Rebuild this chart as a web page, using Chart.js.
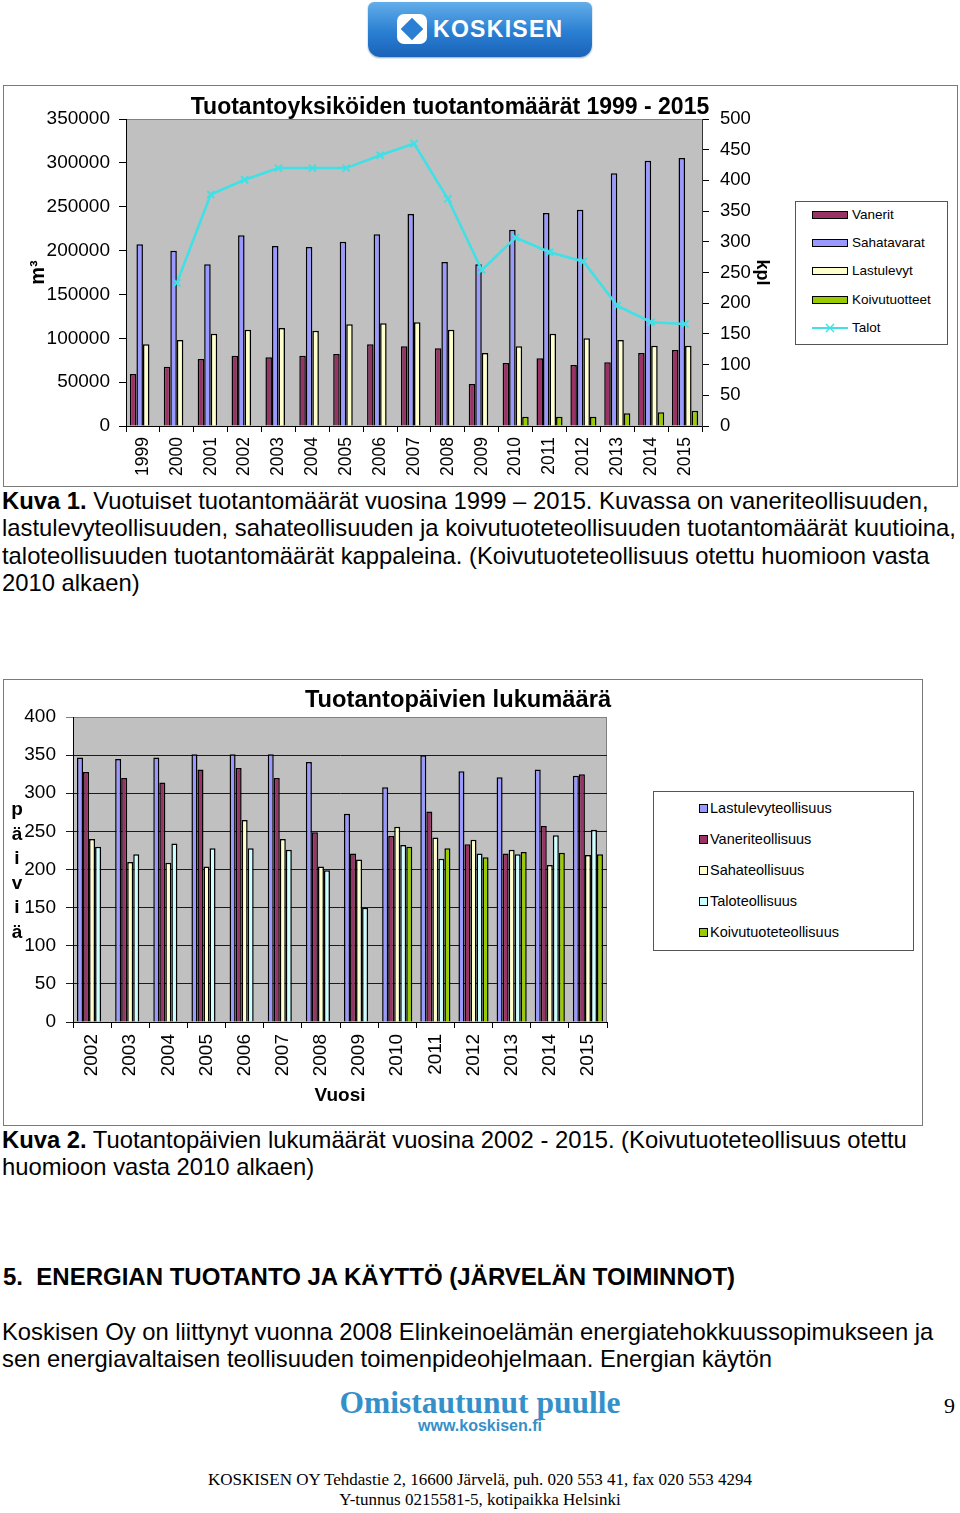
<!DOCTYPE html>
<html>
<head>
<meta charset="utf-8">
<script src="https://cdn.jsdelivr.net/npm/chart.js@4.4.0/dist/chart.umd.min.js"></script>
<style>
  body { margin: 0; background: #fff; }
  #page { position: relative; width: 960px; height: 1513px; overflow: hidden; background: #fff;
          font-family: "Liberation Sans", Arial, sans-serif; color: #000; }
  .abs { position: absolute; white-space: nowrap; }
  .frame { position: absolute; box-sizing: border-box; border: 1px solid #7a7a7a; background: #fff; }
  .frame canvas { position: absolute; left: 0; top: 0; }
  .leg { position: absolute; box-sizing: border-box; border: 1px solid #555; background: #fff; }
  .sw1 { position: absolute; width: 36px; height: 8px; box-sizing: border-box; border: 1.5px solid #000; }
  .sw2 { position: absolute; width: 9px; height: 9px; box-sizing: border-box; border: 1.5px solid #000; }
  .lt1 { position: absolute; font-size: 13.5px; line-height: 16px; }
  .lt2 { position: absolute; font-size: 14.5px; line-height: 18px; }
  .cap { font-size: 23.8px; line-height: 27.3px; }
</style>
</head>
<body>
<div id="page">

  <!-- logo -->
  <div class="abs" style="left:368px;top:2px;width:224px;height:55px;border-radius:6px 6px 12px 12px;
       background:linear-gradient(#63aeea,#2a7fd2 55%,#1a62b8);box-shadow:0 1px 2px #8ab;"></div>
  <div class="abs" style="left:397px;top:14px;width:30px;height:30px;border-radius:7px;background:#fff;"></div>
  <div class="abs" style="left:404px;top:21px;width:16px;height:16px;background:#2a7fd2;transform:rotate(45deg);"></div>
  <div class="abs" style="left:433px;top:15px;font-size:23px;line-height:28px;font-weight:bold;color:#fff;letter-spacing:1.3px;">KOSKISEN</div>

  <!-- chart 1 -->
  <div class="frame" style="left:3px;top:85px;width:955px;height:402px;">
    <canvas id="c1" width="953" height="400"></canvas>
  </div>
  <div class="abs" style="left:0px;top:92px;width:900px;text-align:center;font-size:23px;line-height:28px;font-weight:bold;">Tuotantoyksiköiden tuotantomäärät 1999 - 2015</div>

  <div class="leg" style="left:795px;top:201px;width:153px;height:144px;"></div>
  <div class="sw1" style="left:812px;top:211px;background:#993366;"></div>
  <div class="lt1" style="left:852px;top:207px;">Vanerit</div>
  <div class="sw1" style="left:812px;top:239px;background:#9999ff;"></div>
  <div class="lt1" style="left:852px;top:235px;">Sahatavarat</div>
  <div class="sw1" style="left:812px;top:267px;background:#ffffcc;"></div>
  <div class="lt1" style="left:852px;top:263px;">Lastulevyt</div>
  <div class="sw1" style="left:812px;top:296px;background:#99cc00;"></div>
  <div class="lt1" style="left:852px;top:292px;">Koivutuotteet</div>
  <svg class="abs" style="left:812px;top:322px;" width="36" height="12">
    <line x1="0" y1="6" x2="36" y2="6" stroke="#3fe0e6" stroke-width="2"/>
    <line x1="14" y1="2" x2="22" y2="10" stroke="#3fe0e6" stroke-width="1.5"/>
    <line x1="22" y1="2" x2="14" y2="10" stroke="#3fe0e6" stroke-width="1.5"/>
  </svg>
  <div class="lt1" style="left:852px;top:320px;">Talot</div>

  <div class="abs cap" style="left:2px;top:487px;">
    <b>Kuva 1.</b> Vuotuiset tuotantomäärät vuosina 1999 – 2015. Kuvassa on vaneriteollisuuden,<br>
    lastulevyteollisuuden, sahateollisuuden ja koivutuoteteollisuuden tuotantomäärät kuutioina,<br>
    taloteollisuuden tuotantomäärät kappaleina. (Koivutuoteteollisuus otettu huomioon vasta<br>
    2010 alkaen)
  </div>

  <!-- chart 2 -->
  <div class="frame" style="left:3px;top:679px;width:920px;height:447px;">
    <canvas id="c2" width="918" height="445"></canvas>
  </div>
  <div class="abs" style="left:58px;top:685px;width:800px;text-align:center;font-size:23.7px;line-height:28px;font-weight:bold;">Tuotantopäivien lukumäärä</div>
  <div class="abs" style="left:9px;top:797px;width:16px;text-align:center;font-size:19px;line-height:24.6px;font-weight:bold;">p<br>ä<br>i<br>v<br>i<br>ä</div>

  <div class="leg" style="left:653px;top:791px;width:261px;height:160px;"></div>
  <div class="sw2" style="left:699px;top:804px;background:#9999ff;"></div>
  <div class="lt2" style="left:710px;top:799px;">Lastulevyteollisuus</div>
  <div class="sw2" style="left:699px;top:835px;background:#993366;"></div>
  <div class="lt2" style="left:710px;top:830px;">Vaneriteollisuus</div>
  <div class="sw2" style="left:699px;top:866px;background:#ffffcc;"></div>
  <div class="lt2" style="left:710px;top:861px;">Sahateollisuus</div>
  <div class="sw2" style="left:699px;top:897px;background:#ccffff;"></div>
  <div class="lt2" style="left:710px;top:892px;">Taloteollisuus</div>
  <div class="sw2" style="left:699px;top:928px;background:#99cc00;"></div>
  <div class="lt2" style="left:710px;top:923px;">Koivutuoteteollisuus</div>

  <div class="abs cap" style="left:2px;top:1126px;">
    <b>Kuva 2.</b> Tuotantopäivien lukumäärät vuosina 2002 - 2015. (Koivutuoteteollisuus otettu<br>
    huomioon vasta 2010 alkaen)
  </div>

  <div class="abs" style="left:3px;top:1263px;font-size:24px;line-height:28px;font-weight:bold;">5.&nbsp;&nbsp;ENERGIAN TUOTANTO JA KÄYTTÖ (JÄRVELÄN TOIMINNOT)</div>

  <div class="abs cap" style="left:2px;top:1318px;">
    Koskisen Oy on liittynyt vuonna 2008 Elinkeinoelämän energiatehokkuussopimukseen ja<br>
    sen energiavaltaisen teollisuuden toimenpideohjelmaan. Energian käytön
  </div>

  <!-- footer -->
  <div class="abs" style="left:280px;top:1385px;width:400px;text-align:center;font-family:'Liberation Serif',serif;font-weight:bold;font-size:31.5px;line-height:35px;color:#3590c9;">Omistautunut puulle</div>
  <div class="abs" style="left:380px;top:1417px;width:200px;text-align:center;font-weight:bold;font-size:16px;line-height:18px;color:#3590c9;">www.koskisen.fi</div>
  <div class="abs" style="left:944px;top:1393px;font-family:'Liberation Serif',serif;font-size:22px;line-height:26px;">9</div>
  <div class="abs" style="left:0;top:1470px;width:960px;text-align:center;font-family:'Liberation Serif',serif;font-size:17px;line-height:20px;">KOSKISEN OY Tehdastie 2, 16600 Järvelä, puh. 020 553 41, fax 020 553 4294<br>Y-tunnus 0215581-5, kotipaikka Helsinki</div>
</div>

<script>
// ---------- Chart 1 data ----------
const years1 = ['1999','2000','2001','2002','2003','2004','2005','2006','2007','2008','2009','2010','2011','2012','2013','2014','2015'];
const vanerit      = [59300, 67600, 76400, 80200, 78300, 80200, 82100, 93100, 90800, 88500, 47900, 71800, 77200, 69500, 72600, 83200, 86600];
const sahatavarat  = [207100, 199900, 184300, 217400, 205200, 204100, 210100, 218500, 241700, 187000, 184300, 223800, 242800, 246600, 288100, 302500, 305500];
const lastulevyt   = [93100, 98000, 105300, 109800, 111700, 108700, 115900, 117000, 118200, 109800, 83200, 90800, 105300, 100000, 98000, 91600, 91600];
const koivutuotteet = [null, null, null, null, null, null, null, null, null, null, null, 10600, 10600, 10600, 14400, 15600, 17500];
const talot        = [null, 233, 377, 401, 420, 420, 420, 441, 460, 370, 254, 307, 283, 268, 196, 169, 166];
const ticksM3  = { min: 0, max: 350000, step: 50000 };
const ticksKpl = { min: 0, max: 500, step: 50 };

// ---------- Chart 2 data ----------
const years2 = ['2002','2003','2004','2005','2006','2007','2008','2009','2010','2011','2012','2013','2014','2015'];
const lastulevyteollisuus  = [347, 345, 347, 351, 351, 351, 341, 273, 308, 350, 329, 321, 331, 323];
const vaneriteollisuus     = [328, 320, 314, 331, 333, 320, 249, 221, 244, 276, 233, 221, 257, 325];
const sahateollisuus       = [240, 210, 209, 204, 265, 240, 204, 213, 256, 242, 239, 226, 206, 219];
const taloteollisuus       = [230, 220, 234, 228, 228, 226, 199, 150, 232, 214, 221, 220, 245, 252];
const koivutuoteteollisuus = [null, null, null, null, null, null, null, null, 230, 228, 216, 223, 222, 220];
const ticksDays = { min: 0, max: 400, step: 50 };

Chart.defaults.font.family = '"Liberation Sans", Arial, sans-serif';
Chart.defaults.color = '#000';

const plotBg = {
  id: 'plotBg',
  beforeDraw(chart, args, opts) {
    const { ctx, chartArea: { left, top, right, bottom } } = chart;
    ctx.save();
    ctx.fillStyle = opts.color || '#c0c0c0';
    ctx.fillRect(left, top, right - left, bottom - top);
    ctx.strokeStyle = '#808080';
    ctx.lineWidth = 1;
    ctx.beginPath();
    ctx.moveTo(left, top + 0.5);
    ctx.lineTo(right - 0.5, top + 0.5);
    if (opts.rightBorder) ctx.lineTo(right - 0.5, bottom);
    ctx.stroke();
    ctx.restore();
  }
};

const plain = v => String(v);
const barBase = { borderColor: '#000', borderWidth: 1.5, categoryPercentage: 0.77, barPercentage: 1.0, order: 1 };

new Chart(document.getElementById('c1'), {
  type: 'bar',
  plugins: [plotBg],
  data: {
    labels: years1,
    datasets: [
      { ...barBase, label: 'Vanerit', data: vanerit, backgroundColor: '#993366' },
      { ...barBase, label: 'Sahatavarat', data: sahatavarat, backgroundColor: '#9999ff' },
      { ...barBase, label: 'Lastulevyt', data: lastulevyt, backgroundColor: '#ffffcc' },
      { ...barBase, label: 'Koivutuotteet', data: koivutuotteet, backgroundColor: '#99cc00' },
      { type: 'line', label: 'Talot', data: talot, yAxisID: 'y1', order: 0,
        borderColor: '#3fe0e6', borderWidth: 2.5, tension: 0, fill: false,
        pointStyle: 'crossRot', pointRadius: 5, pointBorderWidth: 2,
        pointBorderColor: '#3fe0e6', pointBackgroundColor: '#3fe0e6' }
    ]
  },
  options: {
    responsive: false, animation: false, devicePixelRatio: 1,
    layout: { padding: { left: 0, right: 175, top: 33, bottom: 0 } },
    plugins: { legend: { display: false }, title: { display: false }, tooltip: { enabled: false }, plotBg: { color: '#c0c0c0', rightBorder: false } },
    scales: {
      x: {
        afterFit: s => { s.height = 60; },
        grid: { offset: true, drawOnChartArea: false, drawTicks: true, tickLength: 6, color: '#000' },
        border: { color: '#000', width: 1 },
        ticks: { autoSkip: false, minRotation: 90, maxRotation: 90, padding: 5, font: { size: 17.5 } }
      },
      y: {
        position: 'left', min: ticksM3.min, max: ticksM3.max,
        afterFit: s => { s.width = 122; },
        grid: { drawOnChartArea: false, drawTicks: true, tickLength: 7, color: '#000' },
        border: { color: '#000', width: 1 },
        ticks: { stepSize: ticksM3.step, callback: plain, padding: 9, font: { size: 19 } },
        title: { display: true, text: 'm³', font: { size: 20, weight: 'bold' }, padding: { top: 22 } }
      },
      y1: {
        position: 'right', min: ticksKpl.min, max: ticksKpl.max,
        afterFit: s => { s.width = 80; },
        grid: { drawOnChartArea: false, drawTicks: true, tickLength: 7, color: '#000' },
        border: { color: '#333', width: 1 },
        ticks: { stepSize: ticksKpl.step, callback: plain, padding: 11, font: { size: 18.5 } },
        title: { display: true, text: 'kpl', font: { size: 18, weight: 'bold' }, padding: { top: 9 } }
      }
    }
  }
});

const bar2 = { borderColor: '#000', borderWidth: 1.5, categoryPercentage: 0.79, barPercentage: 1.0 };
new Chart(document.getElementById('c2'), {
  type: 'bar',
  plugins: [plotBg],
  data: {
    labels: years2,
    datasets: [
      { ...bar2, label: 'Lastulevyteollisuus', data: lastulevyteollisuus, backgroundColor: '#9999ff' },
      { ...bar2, label: 'Vaneriteollisuus', data: vaneriteollisuus, backgroundColor: '#993366' },
      { ...bar2, label: 'Sahateollisuus', data: sahateollisuus, backgroundColor: '#ffffcc' },
      { ...bar2, label: 'Taloteollisuus', data: taloteollisuus, backgroundColor: '#ccffff' },
      { ...bar2, label: 'Koivutuoteteollisuus', data: koivutuoteteollisuus, backgroundColor: '#99cc00' }
    ]
  },
  options: {
    responsive: false, animation: false, devicePixelRatio: 1,
    layout: { padding: { left: 0, right: 315, top: 37, bottom: 0 } },
    plugins: { legend: { display: false }, title: { display: false }, tooltip: { enabled: false }, plotBg: { color: '#c0c0c0', rightBorder: true } },
    scales: {
      x: {
        afterFit: s => { s.height = 103; },
        grid: { offset: true, drawOnChartArea: false, drawTicks: true, tickLength: 6, color: '#000' },
        border: { color: '#000', width: 1 },
        ticks: { autoSkip: false, minRotation: 90, maxRotation: 90, padding: 6, font: { size: 19 } },
        title: { display: true, text: 'Vuosi', font: { size: 19, weight: 'bold' }, padding: { bottom: 18 } }
      },
      y: {
        position: 'left', min: ticksDays.min, max: ticksDays.max,
        afterFit: s => { s.width = 69; },
        grid: { drawOnChartArea: true, drawTicks: true, tickLength: 7,
                color: c => (c.tick && c.tick.value === ticksDays.max) ? '#808080' : '#1a1a1a' },
        border: { color: '#000', width: 1 },
        ticks: { stepSize: ticksDays.step, callback: plain, padding: 10, font: { size: 19 } }
      }
    }
  }
});
</script>
</body>
</html>
